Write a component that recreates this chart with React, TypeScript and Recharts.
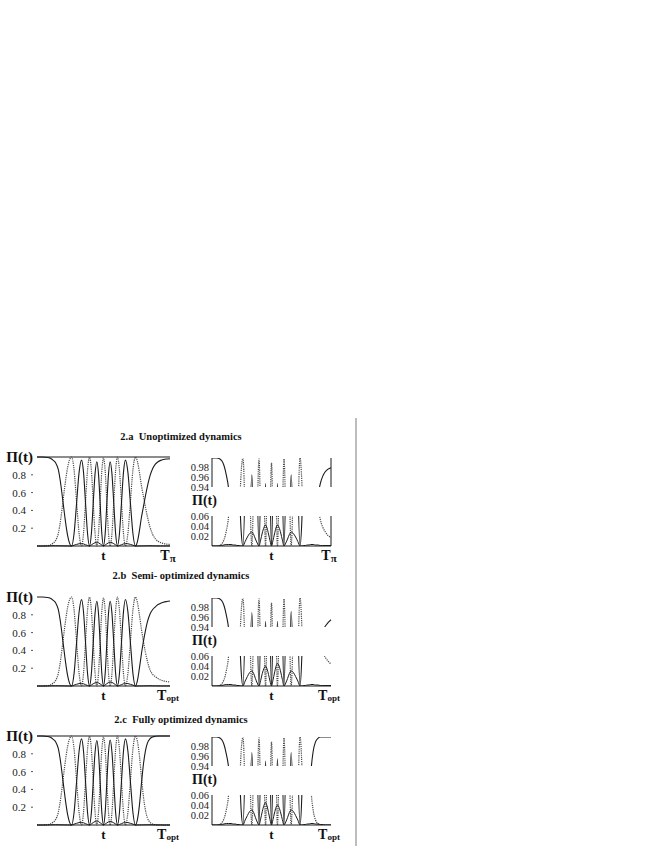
import React from 'react';
import { LineChart, Line, XAxis, YAxis, ReferenceLine } from 'recharts';

// time grid (0 = start, 100 = end of the pulse)
const tGrid = [0, 4, 8, 10, 12, 14, 16, 18, 19.5, 21, 23, 24.5, 26,
  27.875, 29.75, 31.625, 33.5, 35, 36.5, 38, 39.5,
  40.875, 42.25, 43.625, 45, 46.25, 47.5, 48.75, 50,
  51.25, 52.5, 53.75, 55, 56.375, 57.75, 59.125, 60.5,
  62, 63.5, 65, 66.5, 68.375, 70.25, 72.125, 74,
  75.5, 77, 78.5, 80, 81.5, 83, 85, 87, 89, 91, 93, 95, 97.5, 100];

// 2.a Unoptimized
const aSolid = [1, 1, 0.995, 0.985, 0.965, 0.935, 0.86, 0.68, 0.5, 0.32, 0.12, 0.03, 0,
  0.14, 0.48, 0.824, 0.965, 0.824, 0.48, 0.14, 0,
  0.138, 0.473, 0.808, 0.947, 0.808, 0.473, 0.138, 0,
  0.138, 0.473, 0.808, 0.947, 0.808, 0.473, 0.138, 0,
  0.14, 0.48, 0.824, 0.965, 0.824, 0.48, 0.14, 0,
  0.05, 0.17, 0.32, 0.44, 0.56, 0.67, 0.79, 0.87, 0.92, 0.947, 0.962, 0.971, 0.977, 0.98];
const aDotted = [0, 0, 0.004, 0.012, 0.03, 0.062, 0.14, 0.32, 0.5, 0.68, 0.88, 0.97, 1.0,
  0.854, 0.5, 0.146, 0, 0.146, 0.5, 0.852, 0.998,
  0.852, 0.5, 0.146, 0, 0.145, 0.495, 0.845, 0.99,
  0.845, 0.495, 0.145, 0, 0.146, 0.5, 0.852, 0.998,
  0.852, 0.5, 0.146, 0, 0.146, 0.5, 0.854, 1.0,
  0.95, 0.83, 0.68, 0.56, 0.44, 0.33, 0.21, 0.13, 0.08, 0.053, 0.038, 0.029, 0.021, 0.017];
const aResid = [0, 0, 0.001, 0.002, 0.003, 0.003, 0.003, 0.002, 0.002, 0.001, 0.001, 0, 0,
  0.009, 0.018, 0.025, 0.028, 0.023, 0.014, 0.006, 0,
  0.012, 0.026, 0.037, 0.042, 0.036, 0.024, 0.011, 0,
  0.011, 0.024, 0.036, 0.042, 0.037, 0.026, 0.012, 0,
  0.006, 0.014, 0.023, 0.028, 0.025, 0.018, 0.009, 0,
  0, 0.001, 0.001, 0.002, 0.002, 0.003, 0.003, 0.002, 0.002, 0.001, 0.001, 0.001, 0.001, 0.001];

// 2.b Semi-optimized
const bSolid = [1, 1, 0.995, 0.985, 0.965, 0.935, 0.86, 0.68, 0.5, 0.32, 0.12, 0.03, 0,
  0.142, 0.485, 0.828, 0.97, 0.828, 0.485, 0.142, 0,
  0.139, 0.476, 0.813, 0.952, 0.813, 0.476, 0.139, 0,
  0.139, 0.476, 0.813, 0.952, 0.813, 0.476, 0.139, 0,
  0.142, 0.486, 0.83, 0.972, 0.83, 0.486, 0.142, 0,
  0.06, 0.2, 0.36, 0.5, 0.62, 0.72, 0.81, 0.86, 0.89, 0.915, 0.931, 0.941, 0.949, 0.955];
const bDotted = [0, 0, 0.004, 0.012, 0.03, 0.062, 0.14, 0.32, 0.5, 0.68, 0.88, 0.97, 1.0,
  0.854, 0.5, 0.146, 0, 0.146, 0.5, 0.852, 0.998,
  0.852, 0.5, 0.146, 0, 0.145, 0.495, 0.845, 0.99,
  0.845, 0.495, 0.145, 0, 0.146, 0.5, 0.852, 0.998,
  0.852, 0.5, 0.146, 0, 0.146, 0.5, 0.854, 1.0,
  0.94, 0.8, 0.64, 0.5, 0.38, 0.28, 0.18, 0.13, 0.105, 0.083, 0.068, 0.058, 0.05, 0.044];
const bResid = [0, 0, 0.001, 0.002, 0.003, 0.003, 0.003, 0.002, 0.002, 0.001, 0.001, 0, 0,
  0.01, 0.019, 0.027, 0.03, 0.025, 0.015, 0.006, 0,
  0.011, 0.025, 0.035, 0.04, 0.034, 0.023, 0.01, 0,
  0.012, 0.026, 0.039, 0.045, 0.04, 0.028, 0.013, 0,
  0.006, 0.015, 0.025, 0.03, 0.027, 0.019, 0.01, 0,
  0, 0.001, 0.001, 0.002, 0.002, 0.003, 0.003, 0.002, 0.002, 0.001, 0.001, 0.001, 0.001, 0.001];

// 2.c Fully optimized
const cSolid = [1, 1, 0.995, 0.985, 0.965, 0.935, 0.86, 0.68, 0.5, 0.32, 0.12, 0.03, 0,
  0.141, 0.484, 0.826, 0.968, 0.826, 0.484, 0.141, 0,
  0.139, 0.475, 0.811, 0.95, 0.811, 0.475, 0.139, 0,
  0.139, 0.478, 0.815, 0.955, 0.815, 0.478, 0.139, 0,
  0.141, 0.484, 0.826, 0.968, 0.826, 0.484, 0.141, 0,
  0.06, 0.22, 0.46, 0.68, 0.83, 0.92, 0.97, 0.99, 0.997, 1, 1, 1, 1, 1];
const cDotted = [0, 0, 0.004, 0.012, 0.03, 0.062, 0.14, 0.32, 0.5, 0.68, 0.88, 0.97, 1.0,
  0.854, 0.5, 0.146, 0, 0.146, 0.5, 0.852, 0.998,
  0.852, 0.5, 0.146, 0, 0.145, 0.495, 0.845, 0.99,
  0.845, 0.495, 0.145, 0, 0.146, 0.5, 0.852, 0.998,
  0.852, 0.5, 0.146, 0, 0.146, 0.5, 0.854, 1.0,
  0.94, 0.78, 0.54, 0.32, 0.17, 0.08, 0.03, 0.01, 0.003, 0, 0, 0, 0, 0];
const cResid = [0, 0, 0.001, 0.002, 0.003, 0.003, 0.003, 0.002, 0.002, 0.001, 0.001, 0, 0,
  0.01, 0.019, 0.027, 0.03, 0.025, 0.015, 0.006, 0,
  0.012, 0.027, 0.039, 0.045, 0.038, 0.025, 0.011, 0,
  0.011, 0.024, 0.035, 0.04, 0.035, 0.024, 0.011, 0,
  0.006, 0.015, 0.025, 0.03, 0.027, 0.019, 0.01, 0,
  0, 0.001, 0.001, 0.002, 0.002, 0.003, 0.003, 0.002, 0.002, 0.001, 0.001, 0, 0, 0];

const panelTitles = ['2.a  Unoptimized dynamics', '2.b  Semi- optimized dynamics', '2.c  Fully optimized dynamics'];
const endSubs = ['π', 'opt', 'opt'];
const leftTicks = [0.2, 0.4, 0.6, 0.8, 1];
const upperTicks = [0.94, 0.96, 0.98];
const lowerTicks = [0.02, 0.04, 0.06];
const timeTicks = [50, 100];
const yLabel = 'Π(t)';
const midLabel = 't';

const SERIF = '"Liberation Serif", "Times New Roman", serif';
const INK = '#1a1a1a';
const DOT = '#4a4a4a';

const buildRows = (s: number[], d: number[], r: number[]) =>
  tGrid.map((t, i) => ({ t, solid: s[i], dotted: d[i], resid: r[i] }));

const panels = [
  { title: panelTitles[0], titleY: 437, top: 457, sub: endSubs[0], data: buildRows(aSolid, aDotted, aResid), topLine: true, edge: true },
  { title: panelTitles[1], titleY: 576, top: 597, sub: endSubs[1], data: buildRows(bSolid, bDotted, bResid), topLine: false, edge: false },
  { title: panelTitles[2], titleY: 720, top: 736, sub: endSubs[2], data: buildRows(cSolid, cDotted, cResid), topLine: true, edge: false },
];

const LeftTick = (props: any) => {
  const { x, y, payload } = props;
  if (payload.value === 1) {
    return (
      <text x={x - 4} y={y} textAnchor="end" dominantBaseline="central" fontFamily={SERIF} fontWeight="bold" fontSize={15} fill="#111">{yLabel}</text>
    );
  }
  return (
    <g>
      <text x={x - 11} y={y} textAnchor="end" dominantBaseline="central" fontFamily={SERIF} fontSize={11} fill="#222">{payload.value.toFixed(1)}</text>
      <line x1={x - 6} x2={x - 4} y1={y} y2={y} stroke="#555" />
    </g>
  );
};

const InsetTick = (props: any) => {
  const { x, y, payload } = props;
  return (
    <text x={x - 3} y={y} textAnchor="end" dominantBaseline="central" fontFamily={SERIF} fontSize={10.5} fill="#222">{payload.value.toFixed(2)}</text>
  );
};

const TimeTick = (props: any) => {
  const { x, y, payload, sub } = props;
  if (payload.value === 50) {
    return <text x={x} y={y + 9} textAnchor="middle" dominantBaseline="central" fontFamily={SERIF} fontWeight="bold" fontSize={13} fill="#111">{midLabel}</text>;
  }
  return (
    <text x={x - 2} y={y + 9} textAnchor="middle" dominantBaseline="central" fontFamily={SERIF} fontWeight="bold" fill="#111">
      <tspan fontSize={14}>T</tspan>
      <tspan fontSize={sub === 'π' ? 11 : 9} dy={3}>{sub}</tspan>
    </text>
  );
};

const seriesLines = () => [
  <Line key="d" dataKey="dotted" type="monotone" stroke={DOT} strokeWidth={1.2} strokeDasharray="1.2 1" dot={false} isAnimationActive={false} />,
  <Line key="s" dataKey="solid" type="monotone" stroke={INK} strokeWidth={1.1} dot={false} isAnimationActive={false} />,
  <Line key="r" dataKey="resid" type="monotone" stroke={INK} strokeWidth={1} dot={false} isAnimationActive={false} />,
];

const Panel = ({ p }: { p: typeof panels[number] }) => {
  const top = p.top;
  return (
    <>
      <div style={{ position: 'absolute', left: 61, width: 240, top: p.titleY - 7, textAlign: 'center', fontFamily: SERIF, fontWeight: 'bold', fontSize: 10.5, whiteSpace: 'pre', lineHeight: '14px', color: '#111' }}>{p.title}</div>
      {/* left full view */}
      <div style={{ position: 'absolute', left: 0, top: top - 10 }}>
        <LineChart width={180} height={121} data={p.data} margin={{ top: 10, right: 10, left: 0, bottom: 0 }}>
          <XAxis dataKey="t" type="number" domain={[0, 100]} ticks={timeTicks} interval={0} height={22} tickLine={false} tickSize={0} tickMargin={0} axisLine={{ stroke: INK }} tick={(tp: any) => <TimeTick {...tp} sub={p.sub} />} />
          <YAxis type="number" domain={[0, 1]} ticks={leftTicks} interval={0} width={37} axisLine={false} tickLine={false} tickSize={0} tickMargin={0} tick={(tp: any) => <LeftTick {...tp} />} />
          {p.topLine && <ReferenceLine y={1} stroke={INK} strokeWidth={1.1} />}
          {seriesLines()}
        </LineChart>
      </div>
      {/* right upper inset */}
      <div style={{ position: 'absolute', left: 180, top: top + 1 - 4 }}>
        <LineChart width={161} height={37} data={p.data} margin={{ top: 4, right: 10, left: 0, bottom: 4 }}>
          <XAxis dataKey="t" type="number" domain={[0, 100]} hide />
          <YAxis type="number" domain={[0.94, 1]} allowDataOverflow ticks={upperTicks} interval={0} width={32} axisLine={{ stroke: INK }} tickLine={false} tickSize={0} tickMargin={0} tick={(tp: any) => <InsetTick {...tp} />} />
          {p.edge && <ReferenceLine x={100} stroke={INK} />}
          {seriesLines()}
        </LineChart>
      </div>
      <div style={{ position: 'absolute', left: 192, top: top + 44 - 9, fontFamily: SERIF, fontWeight: 'bold', fontSize: 14, lineHeight: '18px', color: '#111' }}>{yLabel}</div>
      {/* right lower inset */}
      <div style={{ position: 'absolute', left: 180, top: top + 59 - 4 }}>
        <LineChart width={161} height={56} data={p.data} margin={{ top: 4, right: 10, left: 0, bottom: 0 }}>
          <XAxis dataKey="t" type="number" domain={[0, 100]} ticks={timeTicks} interval={0} height={22} tickLine={false} tickSize={0} tickMargin={0} axisLine={{ stroke: INK }} tick={(tp: any) => <TimeTick {...tp} sub={p.sub} />} />
          <YAxis type="number" domain={[0, 0.06]} allowDataOverflow ticks={lowerTicks} interval={0} width={32} axisLine={{ stroke: INK }} tickLine={false} tickSize={0} tickMargin={0} tick={(tp: any) => <InsetTick {...tp} />} />
          {p.edge && <ReferenceLine x={100} stroke={INK} />}
          {seriesLines()}
        </LineChart>
      </div>
    </>
  );
};

export default function App() {
  return (
    <div style={{ position: 'absolute', left: 0, top: 0, width: 654, height: 846, background: '#fff', overflow: 'hidden' }}>
      {panels.map((p, i) => <Panel key={i} p={p} />)}
      <div style={{ position: 'absolute', left: 355, top: 418, width: 2, height: 428, background: '#bdbdbd' }} />
    </div>
  );
}
